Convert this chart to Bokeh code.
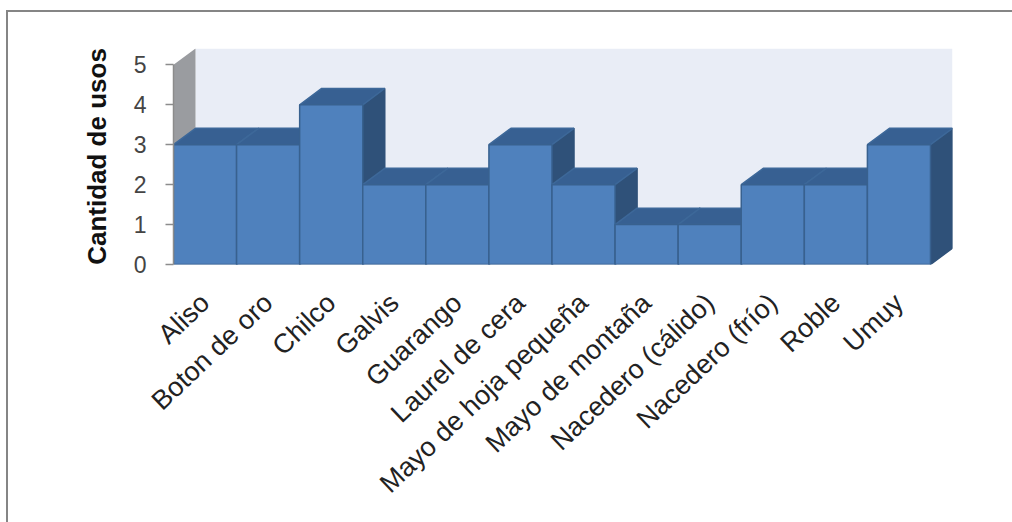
from bokeh.plotting import figure, ColumnDataSource
from bokeh.models import Range1d, FixedTicker, InlineStyleSheet
from bokeh.embed import file_html
from bokeh.resources import INLINE

categorias = ["Aliso", "Boton de oro", "Chilco", "Galvis", "Guarango", "Laurel de cera",
              "Mayo de hoja pequeña", "Mayo de montaña", "Nacedero (cálido)",
              "Nacedero (frío)", "Roble", "Umuy"]
usos = [3, 3, 4, 2, 2, 3, 2, 1, 1, 2, 2, 3]
y_ticks = [0, 1, 2, 3, 4, 5]

DX, DY = 0.349, 0.41
W, H = 1012, 522
n = len(categorias)
y_max = max(y_ticks)

p = figure(width=W, height=H, output_backend="svg", toolbar_location=None,
           x_range=Range1d(0, n + DX), y_range=Range1d(0, y_max + DY),
           min_border_left=173, min_border_right=W - 952, min_border_top=48, min_border_bottom=H - 264)
p.outline_line_color = None
p.grid.visible = False
p.background_fill_color = "white"
p.border_fill_color = "white"

# walls
p.patch([DX, n + DX, n + DX, DX], [DY, DY, y_max + DY, y_max + DY], fill_color="#e9edf6", line_color=None)
p.patch([0, DX, DX, 0], [0, DY, y_max + DY, y_max], fill_color="#9a9ca0", line_color=None)
p.patch([0, n, n + DX, DX], [0, 0, DY, DY], fill_color="#dfe2ea", line_color=None)

# 3D bars
xs, ys, fills, edges = [], [], [], []
for i, v in enumerate(usos):
    xs.append([i + 1, i + 1 + DX, i + 1 + DX, i + 1])
    ys.append([0, DY, v + DY, v])
    fills.append("#2f5179"); edges.append("#2f5179")
    xs.append([i, i + 1, i + 1 + DX, i + DX])
    ys.append([v, v, v + DY, v + DY])
    fills.append("#376092"); edges.append("#3d6899")
    xs.append([i, i + 1, i + 1, i])
    ys.append([0, 0, v, v])
    fills.append("#4f81bd"); edges.append("#38618f")
src = ColumnDataSource(dict(xs=xs, ys=ys, fill=fills, edge=edges))
p.patches("xs", "ys", source=src, fill_color="fill", line_color="edge", line_width=1.5)

# axes
p.yaxis.ticker = FixedTicker(ticks=y_ticks)
p.yaxis.bounds = (0, y_max)
p.yaxis.axis_label = "Cantidad de usos"
p.yaxis.axis_label_text_font = "Liberation Sans"
p.yaxis.axis_label_text_font_style = "bold"
p.yaxis.axis_label_text_font_size = "26px"
p.yaxis.axis_label_text_color = "#111111"
p.yaxis.axis_label_standoff = 19
p.yaxis.major_label_text_font = "Liberation Sans"
p.yaxis.major_label_text_font_size = "23px"
p.yaxis.major_label_text_color = "#444444"
p.yaxis.major_label_standoff = 19
p.yaxis.axis_line_color = "#8c8c8c"
p.yaxis.axis_line_width = 1.5
p.yaxis.major_tick_line_color = "#8c8c8c"
p.yaxis.major_tick_line_width = 1.5
p.yaxis.major_tick_in = 0
p.yaxis.major_tick_out = 8
p.yaxis.minor_tick_line_color = None

centros = [i + 0.5 for i in range(n)]
p.xaxis.ticker = FixedTicker(ticks=centros)
p.xaxis.major_label_overrides = dict(zip(centros, categorias))
p.xaxis.major_label_orientation = 0.76
p.xaxis.major_label_text_font = "Liberation Sans"
p.xaxis.major_label_text_font_size = "27px"
p.xaxis.major_label_text_color = "#222222"
p.xaxis.major_label_standoff = 28
p.xaxis.axis_line_color = None
p.xaxis.major_tick_line_color = None
p.xaxis.minor_tick_line_color = None

# chart frame: top and left edges only
p.stylesheets = [InlineStyleSheet(css=(
    ":host::after{content:'';position:absolute;left:6px;top:10px;right:0;bottom:0;"
    "border-top:2px solid #858585;border-left:2px solid #858585;pointer-events:none;}"))]

open("out.html", "w").write(file_html(p, INLINE))
